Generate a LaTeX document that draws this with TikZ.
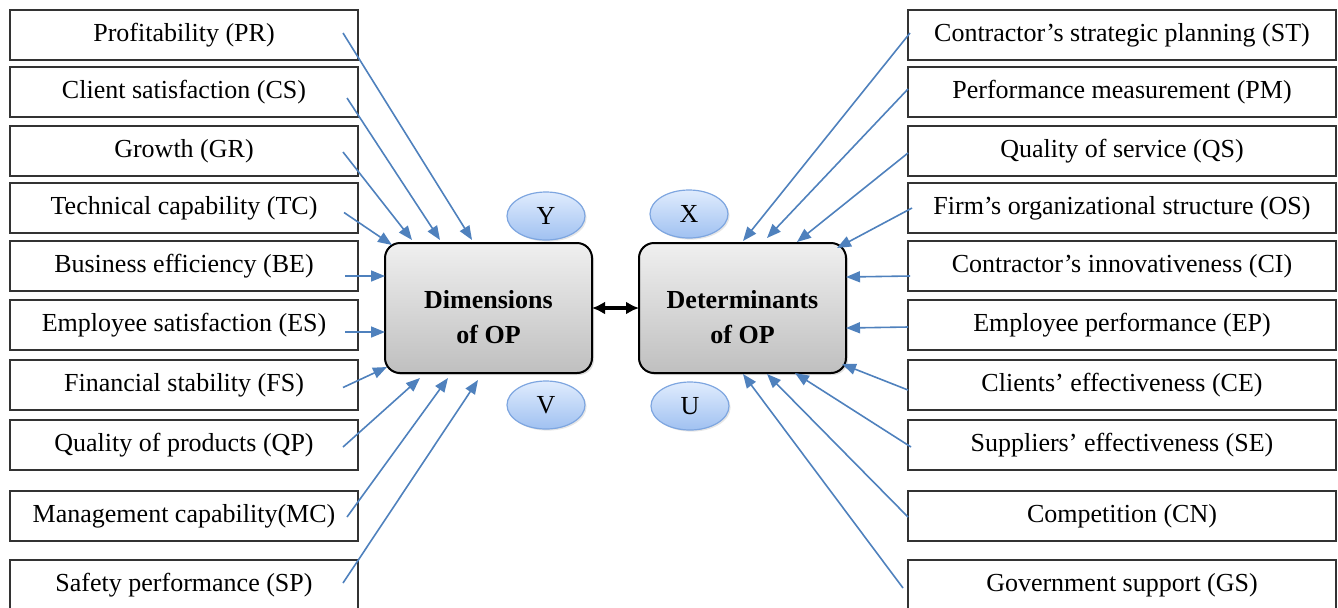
\documentclass[tikz,border=0pt]{standalone}
\usepackage{fontspec}
\setmainfont{Liberation Serif}
\usepackage{xcolor}
\usepackage{tikz}
\usetikzlibrary{positioning,arrows.meta,shapes.geometric,shadows}
\definecolor{linkblue}{RGB}{79,129,189}
\definecolor{bubbletop}{RGB}{224,236,253}
\definecolor{bubblebot}{RGB}{160,193,241}
\definecolor{bubbleline}{RGB}{126,166,224}
\newcommand{\coretext}[1]{\raisebox{-8.5pt}[0pt][0pt]{\begin{tabular}{c}#1\end{tabular}}}

\begin{document}
\begin{tikzpicture}[x=0.5pt, y=-0.5pt, node distance=4pt, font=\fontsize{13}{15}\selectfont]
            \tikzstyle{factor} = [draw=black!80, line width=1.1pt, minimum width=174pt, minimum height=25pt, inner sep=0pt, outer sep=0pt];
            \tikzstyle{driver} = [factor, minimum width=214pt];
            \tikzstyle{core} = [draw=black, line width=1pt, rounded corners=7.5pt, top color=gray!12, bottom color=gray!50, minimum width=103.5pt, minimum height=65pt, inner sep=0pt, outer sep=0pt, font=\fontsize{13}{17.5}\selectfont\bfseries, drop shadow={shadow xshift=1pt, shadow yshift=-1pt, opacity=0.25}];
            \tikzstyle{latent} = [ellipse, draw=bubbleline, line width=0.6pt, top color=bubbletop, bottom color=bubblebot, minimum width=39pt, minimum height=24pt, inner sep=0pt, drop shadow={shadow xshift=0.8pt, shadow yshift=-0.8pt, opacity=0.2}];
            \tikzstyle{link} = [-{Triangle[length=7pt, width=5.5pt]}, draw=linkblue, fill=linkblue, line width=0.8pt];
            \useasboundingbox (0,0) rectangle (1338,607);
            \clip (0,0) rectangle (1338,607);

            % dimensions of organizational performance
            \node [factor] (PR) at (184,35) {Profitability (PR)};
            \node [factor, below = 3.5pt of PR] (CS) {Client satisfaction (CS)};
            \node [factor, below = 4.5pt of CS] (GR) {Growth (GR)};
            \node [factor, below = 3.5pt of GR] (TC) {Technical capability (TC)};
            \node [factor, below = 4pt of TC] (BE) {Business efficiency (BE)};
            \node [factor, below = 4.5pt of BE] (ES) {Employee satisfaction (ES)};
            \node [factor, below = 5pt of ES] (FS) {Financial stability (FS)};
            \node [factor, below = 5pt of FS] (QP) {Quality of products (QP)};
            \node [factor, below = 10.5pt of QP] (MC) {Management capability(MC)};
            \node [factor, below = 9.5pt of MC] (SP) {Safety performance (SP)};

            % determinants of organizational performance
            \node [driver] (ST) at (1122,35) {Contractor’s strategic planning (ST)};
            \node [driver, below = 3.5pt of ST] (PM) {Performance measurement (PM)};
            \node [driver, below = 4.5pt of PM] (QS) {Quality of service (QS)};
            \node [driver, below = 3.5pt of QS] (OS) {Firm’s organizational structure (OS)};
            \node [driver, below = 4pt of OS] (CI) {Contractor’s innovativeness (CI)};
            \node [driver, below = 4.5pt of CI] (EP) {Employee performance (EP)};
            \node [driver, below = 5pt of EP] (CE) {Clients’ effectiveness (CE)};
            \node [driver, below = 5pt of CE] (SE) {Suppliers’ effectiveness (SE)};
            \node [driver, below = 10.5pt of SE] (CN) {Competition (CN)};
            \node [driver, below = 9.5pt of CN] (GS) {Government support (GS)};

            \node [core] (DIM) at (488.5,308) {\coretext{Dimensions\\of OP}};
            \node [core, right = 23.5pt of DIM] (DET) {\coretext{Determinants\\of OP}};

            \node [latent] (Y) at ([xshift=-23pt, yshift=13.5pt]DIM.north east) {Y};
            \node [latent] (V) at ([xshift=-23pt, yshift=-16pt]DIM.south east) {V};
            \node [latent] (X) at ([xshift=25pt, yshift=14.5pt]DET.north west) {X};
            \node [latent] (U) at ([xshift=25.5pt, yshift=-16.5pt]DET.south west) {U};

            \draw [{Latex[length=6.5pt, width=6.5pt]}-{Latex[length=6.5pt, width=6.5pt]}, line width=1.75pt] (DIM) to (DET);

            \draw [link] ([xshift=-7.5pt, yshift=1pt]PR.east) to ([xshift=43.5pt, yshift=1.5pt]DIM.north west);
            \draw [link] ([xshift=-5.5pt, yshift=-3pt]CS.east) to ([xshift=27.5pt, yshift=1.5pt]DIM.north west);
            \draw [link] ([xshift=-7.5pt, yshift=-0.5pt]GR.east) to ([xshift=13.5pt, yshift=1.5pt]DIM.north west);
            \draw [link] ([xshift=-7pt, yshift=-2.25pt]TC.east) to ([xshift=3.5pt, yshift=-1pt]DIM.north west);
            \draw [link] ([xshift=-6.5pt, yshift=-5pt]BE.east) to ([yshift=16pt]DIM.west);
            \draw [link] ([xshift=-6.5pt, yshift=-3.5pt]ES.east) to ([yshift=-12pt]DIM.west);
            \draw [link] ([xshift=-7.5pt, yshift=-1.25pt]FS.east) to ([xshift=1pt, yshift=3pt]DIM.south west);
            \draw [link] ([xshift=-7.5pt, yshift=-1pt]QP.east) to ([xshift=17.5pt, yshift=-2.5pt]DIM.south west);
            \draw [link] ([xshift=-5.5pt, yshift=-0.5pt]MC.east) to ([xshift=31.5pt, yshift=-2.5pt]DIM.south west);
            \draw [link] ([xshift=-7.5pt, yshift=1pt]SP.east) to ([xshift=46.5pt, yshift=-3.5pt]DIM.south west);

            \draw [link] ([xshift=1pt, yshift=1pt]ST.west) to ([xshift=52pt, yshift=1pt]DET.north west);
            \draw [link] ([yshift=1.5pt]PM.west) to ([xshift=64pt, yshift=2.5pt]DET.north west);
            \draw [link] ([yshift=-1pt]QS.west) to ([xshift=79pt, yshift=0.5pt]DET.north west);
            \draw [link] ([xshift=2pt]OS.west) to ([xshift=-4.5pt, yshift=-2.5pt]DET.north east);
            \draw [link] ([xshift=1pt, yshift=-5pt]CI.west) to ([yshift=15.5pt]DET.east);
            \draw [link] ([yshift=-1pt]EP.west) to ([yshift=-10pt]DET.east);
            \draw [link] ([yshift=-2.5pt]CE.west) to ([xshift=-2pt, yshift=4.5pt]DET.south east);
            \draw [link] ([xshift=1.5pt, yshift=-1pt]SE.west) to ([xshift=78pt]DET.south west);
            \draw [link] ([yshift=-0.5pt]CN.west) to ([xshift=64pt, yshift=-0.5pt]DET.south west);
            \draw [link] ([xshift=-2.5pt, yshift=-1.5pt]GS.west) to ([xshift=52pt, yshift=-0.5pt]DET.south west);
\end{tikzpicture}
\end{document}
